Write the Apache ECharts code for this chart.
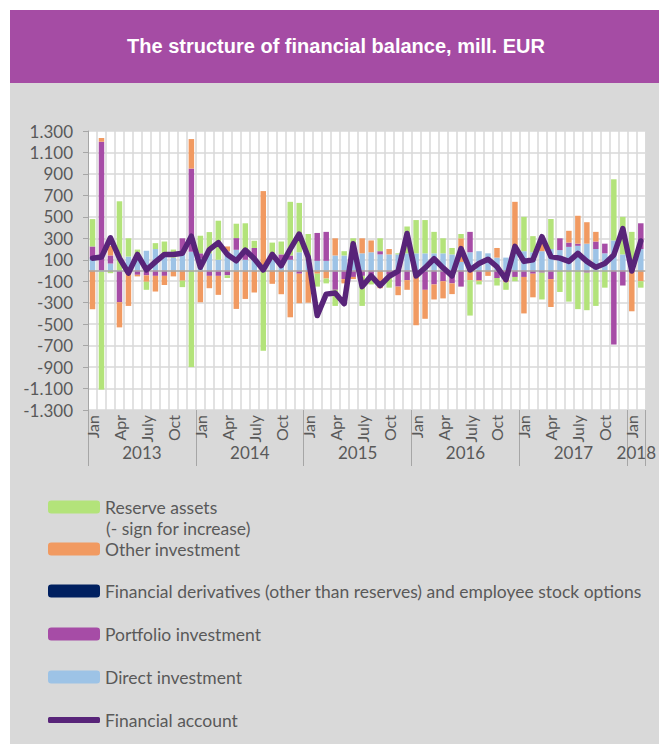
<!DOCTYPE html>
<html><head><meta charset="utf-8">
<script src="https://cdn.jsdelivr.net/npm/echarts@6/dist/echarts.min.js"></script>
<style>html,body{margin:0;padding:0;background:#fff}#c{width:659px;height:744px}</style>
</head><body><div id="c"></div>
<script>
// ---- data ----
const monthNames = ['Jan','Feb','Mar','Apr','May','June','July','Aug','Sep','Oct','Nov','Dec'];
const years = ['2013','2014','2015','2016','2017','2018'];
const monthsInYear = [12,12,12,12,12,2];
const yTicks = [-1300,-1100,-900,-700,-500,-300,-100,100,300,500,700,900,1100,1300];

const reserveAssets = [255,-1100,-25,645,170,65,-75,55,110,75,-60,-900,
  164,198,364,-25,134,260,67,-748,160,120,500,460,
  240,-120,-45,-150,40,150,-280,-70,120,-120,10,250,
  310,310,200,140,60,40,-330,-30,0,-70,-70,-40,
  320,150,-250,280,-200,-290,-360,-350,-330,-160,570,350,
  260,-60];
const otherInvestment = [-361,35,90,-235,-330,-15,-60,-146,-85,-55,-95,275,
  -296,-115,-177,46,-358,-265,-205,690,-124,-221,-436,-275,
  -300,-30,-75,160,-40,-20,140,110,-165,50,-80,-90,
  -510,-270,-140,-160,-100,220,-90,-10,-50,90,-40,470,
  -340,-220,120,-260,0,110,260,200,90,0,0,0,
  -380,-100];
const derivatives = new Array(62).fill(0);
const portfolioInvestment = [109,1200,75,-295,0,-40,-45,-50,-50,0,140,775,
  50,-50,-50,-45,109,80,110,50,0,110,40,-30,
  0,260,270,-180,-80,-60,-50,-60,30,-40,-150,-90,
  0,-180,-130,-100,-120,-150,190,-90,0,-70,-70,-60,
  -60,-30,-20,-80,110,40,20,-20,70,90,-690,-140,
  0,240];
const directInvestment = [115,-10,65,0,130,130,184,200,160,120,160,175,
  110,160,100,178,193,100,100,0,100,40,100,170,
  100,90,90,140,140,150,160,170,150,150,150,160,
  160,160,160,160,150,80,170,180,160,120,120,170,
  180,170,180,200,190,220,230,250,200,160,280,150,
  100,200];
const financialAccount = [115,125,305,115,-25,150,5,80,150,150,160,320,
  30,195,260,150,90,190,110,5,150,45,200,340,
  125,-420,-220,-210,-310,250,-150,-50,-140,-55,-5,345,
  -50,25,110,25,-50,205,5,65,105,35,-85,225,
  85,100,315,130,115,85,160,85,30,65,145,390,
  -5,275];

// ---- categories ----
const cats = [];
years.forEach((y, yi) => { for (let m = 0; m < monthsInYear[yi]; m++) cats.push(y + '-' + monthNames[m]); });
const yearStart = {}; let acc = 0;
years.forEach((y, yi) => { yearStart[acc] = true; acc += monthsInYear[yi]; });
const yearLabelIdx = {}; acc = 0;
years.forEach((y, yi) => { yearLabelIdx[acc + Math.ceil(monthsInYear[yi] / 2)] = y; acc += monthsInYear[yi]; });

const grey = '#595959';
const FONT = 'Lato';
const chart = echarts.init(document.getElementById('c'), null, { renderer: 'svg' });

const barBase = { type: 'bar', stack: 'fb', barWidth: 5.5, xAxisIndex: 0 };
const legendCommon = { orient: 'vertical', left: 48, itemWidth: 52, itemHeight: 13, padding: 0,
  textStyle: { color: grey, fontSize: 17.5, fontFamily: FONT }, selectedMode: false };

chart.setOption({
  animation: false,
  graphic: [
    { type: 'rect', z: -10, shape: { x: 10, y: 83, width: 649, height: 661 }, style: { fill: '#D9D9D9' } },
    { type: 'rect', z: -10, shape: { x: 10, y: 10, width: 649, height: 73 }, style: { fill: '#A54CA4' } },
    { type: 'text', z: 10, style: { text: 'The structure of financial balance, mill. EUR', x: 336, y: 46,
      textAlign: 'center', textVerticalAlign: 'middle', fill: '#fff',
      font: 'bold 20px "Liberation Sans", Arial, sans-serif' } },
    { type: 'text', z: 10, style: { text: '(- sign for increase)', x: 106, y: 528,
      textAlign: 'left', textVerticalAlign: 'middle', fill: grey, font: '17.5px ' + FONT } }
  ],
  grid: { left: 88, top: 131, width: 559, height: 279, show: true, backgroundColor: '#fff', borderWidth: 0 },
  legend: [
    Object.assign({ top: 498, data: ['Reserve assets'] }, legendCommon),
    Object.assign({ top: 540, data: ['Other investment'] }, legendCommon),
    Object.assign({ top: 582, data: ['Financial derivatives (other than reserves) and employee stock options'] }, legendCommon),
    Object.assign({ top: 625, data: ['Portfolio investment'] }, legendCommon),
    Object.assign({ top: 668, data: ['Direct investment'] }, legendCommon),
    Object.assign({ top: 711, data: [{ name: 'Financial account', icon: 'roundRect' }] }, legendCommon, { itemHeight: 6 })
  ],
  xAxis: [
    { type: 'category', data: cats, position: 'bottom',
      axisLine: { show: false }, axisTick: { show: false },
      axisLabel: { interval: (i) => [0,3,6,9].includes(i % 12), rotate: 90, margin: 5,
        formatter: (v) => v.split('-')[1], color: grey, fontSize: 16, fontFamily: FONT },
      splitLine: { show: true, interval: 0, lineStyle: { color: '#D9D9D9', width: 1.5 } } },
    { type: 'category', data: cats, position: 'bottom',
      axisLine: { show: false },
      axisTick: { show: true, interval: (i) => !!yearStart[i] || i === 62, length: 56, lineStyle: { color: '#A6A6A6', width: 1 } },
      axisLabel: { interval: (i) => yearLabelIdx[i] !== undefined, margin: 34,
        formatter: (v, i) => v.split('-')[0], padding: [0, 9, 0, 0],
        color: grey, fontSize: 17, fontFamily: FONT },
      splitLine: { show: false } }
  ],
  yAxis: {
    type: 'value', min: -1300, max: 1300, interval: 200,
    axisLine: { show: true, lineStyle: { color: '#A6A6A6' } },
    axisTick: { show: true, length: 5, lineStyle: { color: '#A6A6A6' } },
    axisLabel: { color: grey, fontSize: 17, fontFamily: FONT, margin: 15,
      formatter: (v) => { const s = Math.abs(v).toString(); const t = s.length > 3 ? s.slice(0, s.length - 3) + '.' + s.slice(-3) : s; return (v < 0 ? '-' : '') + t; } },
    splitLine: { show: true, lineStyle: { color: '#D9D9D9', width: 1.5 } }
  },
  series: [
    Object.assign({ name: 'Direct investment', data: directInvestment, itemStyle: { color: '#9DC3E6' },
      markLine: { silent: true, symbol: 'none', label: { show: false }, lineStyle: { color: '#A6A6A6', width: 1.5, type: 'solid' }, data: [{ yAxis: 0 }] } }, barBase),
    Object.assign({ name: 'Financial derivatives (other than reserves) and employee stock options', data: derivatives, itemStyle: { color: '#002060' } }, barBase),
    Object.assign({ name: 'Portfolio investment', data: portfolioInvestment, itemStyle: { color: '#A64CA6' } }, barBase),
    Object.assign({ name: 'Other investment', data: otherInvestment, itemStyle: { color: '#F19A61' } }, barBase),
    Object.assign({ name: 'Reserve assets', data: reserveAssets, itemStyle: { color: '#B3E37A' } }, barBase),
    { name: 'Financial account', type: 'line', data: financialAccount, symbol: 'none', z: 5,
      lineStyle: { color: '#582479', width: 5.5, join: 'round', cap: 'round' }, itemStyle: { color: '#582479' } }
  ]
});
</script></body></html>
